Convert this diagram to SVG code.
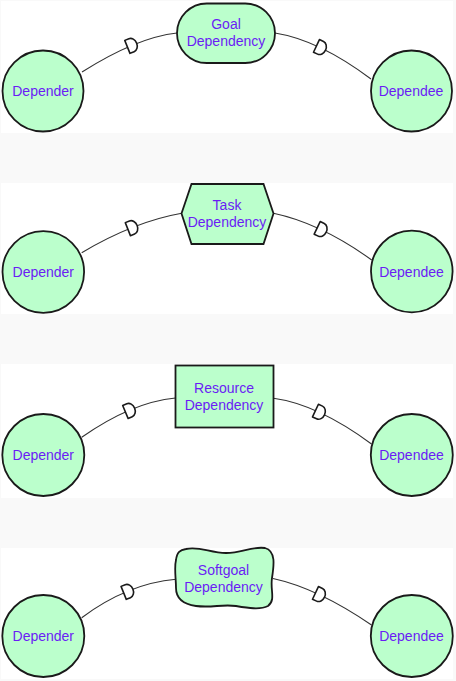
<svg xmlns="http://www.w3.org/2000/svg" width="456" height="681" viewBox="0 0 456 681">
<style>
.panel{fill:#ffffff}
.node{fill:#bbffcc;stroke:#1a1a1a;stroke-width:1.8}
.lbl{font-family:"Liberation Sans",Arial,sans-serif;font-size:14px;fill:#6a1cf5;text-anchor:middle}
.link{fill:none;stroke:#333333;stroke-width:1.1}
.dm{fill:#ffffff;stroke:#1a1a1a;stroke-width:1.6;stroke-linejoin:round}
</style>
<defs>
<path id="dmark" class="dm" d="M-5,-7 H-0.5 A5.5,7 0 0 1 -0.5,7 H-5 Z"/>
</defs>
<rect x="0" y="0" width="456" height="681" fill="#f9f9f9"/>
<g id="panels">
<rect class="panel" x="1" y="1" width="452" height="132"/>
<rect class="panel" x="1" y="183" width="452" height="131"/>
<rect class="panel" x="1" y="364" width="452" height="134"/>
<rect class="panel" x="1" y="548" width="452" height="131"/>
</g>
<g id="connectors">
<path class="link" d="M82,72 Q136.5,37.5 177,33"/>
<path class="link" d="M275,33 Q319,40 371,79"/>
<path class="link" d="M81.7,252.7 Q134.3,221.6 181.7,213.3"/>
<path class="link" d="M273.5,213.3 Q320.8,223.35 371.7,260"/>
<path class="link" d="M81.7,437.3 Q131.4,402.35 175.5,398"/>
<path class="link" d="M273.5,398.3 Q317.5,404.25 371.5,444"/>
<path class="link" d="M81.7,617.7 Q127.75,583.5 176,579.3"/>
<path class="link" d="M273,578.5 Q317.75,588.25 371.5,625"/>
<use href="#dmark" transform="translate(132,45) rotate(-22)"/>
<use href="#dmark" transform="translate(321,48) rotate(25)"/>
<use href="#dmark" transform="translate(132.5,227.3) rotate(-21.5)"/>
<use href="#dmark" transform="translate(321.7,230) rotate(25.4)"/>
<use href="#dmark" transform="translate(130,410) rotate(-22.7)"/>
<use href="#dmark" transform="translate(320,412.7) rotate(25)"/>
<use href="#dmark" transform="translate(128.3,591) rotate(-22)"/>
<use href="#dmark" transform="translate(320,595) rotate(25)"/>
</g>
<g id="depender1"><circle class="node" cx="43" cy="91" r="40.5"/><text class="lbl" x="43" y="95.5">Depender</text></g>
<g id="goal"><rect class="node" x="177" y="3.5" width="98" height="59.5" rx="29.75"/><text class="lbl" x="226" y="29">Goal</text><text class="lbl" x="226" y="45.5">Dependency</text></g>
<g id="dependee1"><circle class="node" cx="411.5" cy="91" r="40.5"/><text class="lbl" x="411" y="95.5">Dependee</text></g>
<g id="depender2"><circle class="node" cx="43.3" cy="272" r="40.8"/><text class="lbl" x="43.3" y="276.5">Depender</text></g>
<g id="task"><polygon class="node" points="181.5,213.5 191.5,184 263.5,184 273.5,213.5 263.5,244 191.5,244"/><text class="lbl" x="227" y="209.5">Task</text><text class="lbl" x="227" y="227">Dependency</text></g>
<g id="dependee2"><circle class="node" cx="411.8" cy="271.5" r="40.8"/><text class="lbl" x="411.5" y="276.5">Dependee</text></g>
<g id="depender3"><circle class="node" cx="43.3" cy="455" r="41"/><text class="lbl" x="43.3" y="459.5">Depender</text></g>
<g id="resource"><rect class="node" x="175.5" y="365.5" width="98" height="62" stroke-width="2"/><text class="lbl" x="224" y="392.5">Resource</text><text class="lbl" x="224" y="409.5">Dependency</text></g>
<g id="dependee3"><circle class="node" cx="411.8" cy="455" r="41"/><text class="lbl" x="411.5" y="459.5">Dependee</text></g>
<g id="depender4"><circle class="node" cx="43.3" cy="636" r="41"/><text class="lbl" x="43.3" y="640.5">Depender</text></g>
<g id="softgoal"><path class="node" d="M186,549 C200,546 210,553 226,553 C242,553 252,546 265,548 C276,551 274,565 272,578 C270,590 276,600 268,606 C260,610 248,608 236,606 C222,604 212,608 196,606 C182,604 176,598 176,588 C176,578 174,568 176,560 C177,552 180,550 186,549 Z"/><text class="lbl" x="223.5" y="574.5">Softgoal</text><text class="lbl" x="223.5" y="592">Dependency</text></g>
<g id="dependee4"><circle class="node" cx="411.8" cy="636" r="41"/><text class="lbl" x="411.5" y="640.5">Dependee</text></g>
</svg>
